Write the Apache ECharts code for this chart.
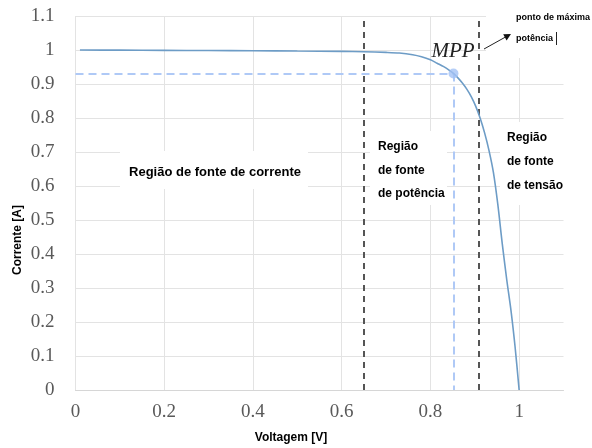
<!DOCTYPE html>
<html><head><meta charset="utf-8">
<script src="https://cdn.jsdelivr.net/npm/echarts@6/dist/echarts.min.js"></script>
<style>html,body{margin:0;padding:0;background:#fff}#c{width:592px;height:448px}</style>
</head><body><div id="c"></div>
<script>
// I-V curve values
const voltage = [0.01, 0.1, 0.2, 0.3, 0.4, 0.5, 0.6, 0.65, 0.7, 0.73, 0.76, 0.78, 0.8, 0.815, 0.83, 0.842, 0.852, 0.862, 0.872, 0.882, 0.892, 0.902, 0.912, 0.922, 0.932, 0.942, 0.952, 0.962, 0.972, 0.982, 0.991, 1.0];
const current = [1.0, 0.9995, 0.999, 0.9985, 0.998, 0.997, 0.996, 0.995, 0.993, 0.991, 0.986, 0.98, 0.971, 0.961, 0.951, 0.941, 0.931, 0.918, 0.903, 0.885, 0.863, 0.835, 0.8, 0.757, 0.705, 0.64, 0.545, 0.43, 0.325, 0.23, 0.125, 0.0];
const mpp = [0.852, 0.931];
const regionBounds = [0.65, 0.912];
const xTickLabels = ['0', '0.2', '0.4', '0.6', '0.8', '1'];
const yTickLabels = ['0', '0.1', '0.2', '0.3', '0.4', '0.5', '0.6', '0.7', '0.8', '0.9', '1', '1.1'];
const texts = {
  xTitle: 'Voltagem [V]', yTitle: 'Corrente [A]',
  left: 'Região de fonte de corrente',
  mid: ['Região', 'de fonte', 'de potência'],
  right: ['Região', 'de fonte', 'de tensão'],
  note: ['ponto de máxima', 'potência'],
  mpp: 'MPP'
};

const chart = echarts.init(document.getElementById('c'));
const curve = voltage.map((v, i) => [v, current[i]]);
const gridCol = '#e3e3e3';
const tickFont = { fontFamily: 'Liberation Serif', fontSize: 19, color: '#595959' };
const blueDash = { color: '#afc9f6', type: [8, 5], width: 2 };
const blackDash = { color: '#555555', type: [6, 5], width: 2 };

function txt(x, y, s, font, extra) {
  return Object.assign({ type: 'text', x: x, y: y, z: 20,
    style: Object.assign({ text: s, font: font, fill: '#000', textVerticalAlign: 'middle' }, extra || {}) });
}
function box(x, y, w, h) {
  return { type: 'rect', z: 15, shape: { x: x, y: y, width: w, height: h }, style: { fill: '#fff' } };
}
const bf = 'bold 13px "Liberation Sans"';
const bf2 = 'bold 12px "Liberation Sans"';
const graphics = [
  box(120, 151, 188, 38),
  box(370, 131, 77, 74),
  box(500, 122, 68, 83),
  box(486, 0, 106, 58),
  txt(215, 172, texts.left, bf, { textAlign: 'center' }),
  txt(378, 147, texts.mid[0], bf2),
  txt(378, 171, texts.mid[1], bf2),
  txt(378, 194, texts.mid[2], bf2),
  txt(507, 138, texts.right[0], bf2),
  txt(507, 162, texts.right[1], bf2),
  txt(507, 186, texts.right[2], bf2),
  txt(516, 18, texts.note[0], 'bold 9px "Liberation Sans"'),
  txt(516, 39, texts.note[1], 'bold 9px "Liberation Sans"'),
  { type: 'rect', z: 20, shape: { x: 556, y: 32, width: 1, height: 13 }, style: { fill: '#222' } },
  txt(453, 51, texts.mpp, 'italic 21px "Liberation Serif"', { textAlign: 'center', fill: '#222' }),
  txt(291, 438, texts.xTitle, 'bold 12px "Liberation Sans"', { textAlign: 'center' }),
  { type: 'text', x: 18, y: 240, rotation: Math.PI / 2, z: 20,
    style: { text: texts.yTitle, font: 'bold 12px "Liberation Sans"', fill: '#000', textAlign: 'center', textVerticalAlign: 'middle' } },
  { type: 'line', z: 20, shape: { x1: 484, y1: 49, x2: 505, y2: 37.3 }, style: { stroke: '#222', lineWidth: 1 } },
  { type: 'polygon', z: 20, shape: { points: [[511, 34], [506.6, 40.4], [503.2, 34.2]] }, style: { fill: '#111' } }
];

chart.setOption({
  animation: false,
  backgroundColor: '#fff',
  grid: { left: 75.5, right: 28.5, top: 16, bottom: 58 },
  xAxis: {
    type: 'value', min: 0, max: 1.1, interval: 0.2,
    axisLine: { show: true, lineStyle: { color: '#d6d6d6', width: 1 } },
    axisTick: { show: false },
    splitLine: { show: true, showMaxLine: false, lineStyle: { color: gridCol } },
    axisLabel: Object.assign({ margin: 13, showMaxLabel: false,
      formatter: v => { const i = Math.round(v / 0.2); return Math.abs(v - i * 0.2) < 1e-6 && i < xTickLabels.length ? xTickLabels[i] : ''; } }, tickFont)
  },
  yAxis: {
    type: 'value', min: 0, max: 1.1, interval: 0.1,
    axisLine: { show: false }, axisTick: { show: false },
    splitLine: { show: true, lineStyle: { color: gridCol } },
    axisLabel: Object.assign({ margin: 21,
      formatter: v => yTickLabels[Math.round(v * 10)] }, tickFont)
  },
  series: [
    {
      type: 'line', data: curve, smooth: 0.3, showSymbol: false, z: 5,
      lineStyle: { color: '#6d9cc6', width: 1.6 },
      markLine: {
        silent: true, symbol: 'none', label: { show: false },
        data: [
          [{ coord: [0, mpp[1]], lineStyle: blueDash }, { coord: [mpp[0], mpp[1]] }],
          [{ coord: [mpp[0], mpp[1]], lineStyle: blueDash }, { coord: [mpp[0], 0] }],
          { xAxis: regionBounds[0], lineStyle: blackDash },
          { xAxis: regionBounds[1], lineStyle: blackDash }
        ]
      }
    },
    {
      type: 'scatter', data: [mpp], symbolSize: 10, z: 6,
      itemStyle: { color: '#a3c2f5' }
    }
  ],
  graphic: graphics
});
</script></body></html>
